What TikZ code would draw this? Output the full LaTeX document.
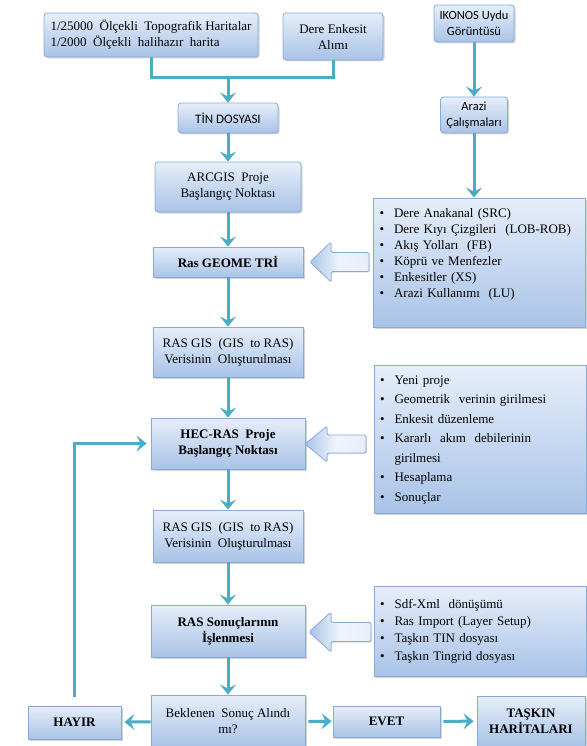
\documentclass[tikz,border=0pt]{standalone}
\usepackage{fontspec}
\setmainfont{Liberation Serif}
\newfontfamily\calibri{Carlito}
\usetikzlibrary{arrows.meta,shadows}
\definecolor{teal1}{HTML}{4BACC6}
\definecolor{boxtop}{HTML}{E6EEFA}
\definecolor{boxbot}{HTML}{A9C3E7}
\definecolor{boxline}{HTML}{8AAAD6}

\tikzset{
  procbox/.style={draw=boxline, line width=0.8pt, top color=boxtop, bottom color=boxbot,
    align=center, inner sep=2pt,
    drop shadow={shadow xshift=1.5pt, shadow yshift=-1.5pt, opacity=0.35}},
  roundbox/.style={procbox, rounded corners=3pt},
  listbox/.style={procbox, align=left, text width=200pt, inner xsep=6pt},
  flowline/.style={draw=teal1, line width=3pt},
  flowarrow/.style={flowline, -{Stealth[length=10pt,width=16pt,inset=4pt]}},
  blockarrow/.style={draw=boxline, line width=0.8pt, rounded corners=1.5pt,
    left color=boxbot, right color=boxtop, middle color=boxtop!60!white,
    drop shadow={shadow xshift=1pt, shadow yshift=-1pt, opacity=0.25}}
}

\begin{document}
\begin{tikzpicture}[x=1pt,y=-1pt,font=\fontsize{13}{16}\selectfont]
\useasboundingbox (0,0) rectangle (586,746);

\node[roundbox, minimum width=214pt, minimum height=44pt, align=left] (topo) at (151,35)
  {1/25000\ \ Ölçekli\ \ Topografik Haritalar\\1/2000\ \ Ölçekli\ \ halihazır\ \ harita};
\node[roundbox, minimum width=100pt, minimum height=47pt] (dere) at (333,36.5) {Dere Enkesit\\Alımı};
\node[roundbox, minimum width=80pt, minimum height=37pt, font=\calibri\fontsize{12.5}{16}\selectfont] (ikonos) at (474,23.5) {IKONOS Uydu\\Görüntüsü};
\node[roundbox, minimum width=67pt, minimum height=36pt, font=\calibri\fontsize{12.5}{16}\selectfont] (arazi) at (474,115) {Arazi\\Çalışmaları};
\node[roundbox, minimum width=100pt, minimum height=30pt, font=\calibri\fontsize{13}{16}\selectfont] (tin) at (228,118) {TİN DOSYASI};
\node[roundbox, minimum width=146pt, minimum height=50pt] (arcgis) at (228,187) {ARCGIS\ \ Proje\\Başlangıç Noktası};
\node[procbox, minimum width=150pt, minimum height=30pt, font=\bfseries\fontsize{13}{16}\selectfont] (rasgeo) at (228,262) {Ras GEOME TRİ};
\node[procbox, minimum width=150pt, minimum height=50pt] (rasgis1) at (228,352) {RAS GIS\ \ (GIS\ \ to RAS)\\Verisinin\ \ Oluşturulması};
\node[procbox, minimum width=154pt, minimum height=51pt, font=\bfseries\fontsize{13}{16}\selectfont] (hecras) at (228,443.5) {HEC-RAS\ \ Proje\\Başlangıç Noktası};
\node[procbox, minimum width=150pt, minimum height=52pt] (rasgis2) at (228,536) {RAS GIS\ \ (GIS\ \ to RAS)\\Verisinin\ \ Oluşturulması};
\node[procbox, minimum width=154pt, minimum height=52pt, font=\bfseries\fontsize{13}{16}\selectfont] (rassonuc) at (228,631) {RAS Sonuçlarının\\İşlenmesi};
\node[procbox, minimum width=154pt, minimum height=52pt] (beklenen) at (228,721) {Beklenen\ \ Sonuç Alındı\\mı?};
\node[procbox, minimum width=93pt, minimum height=33pt, font=\bfseries\fontsize{13}{16}\selectfont] (hayir) at (74.5,722.5) {HAYIR};
\node[procbox, minimum width=107pt, minimum height=31pt, font=\bfseries\fontsize{13}{16}\selectfont] (evet) at (386.5,721.5) {EVET};
\node[procbox, minimum width=108pt, minimum height=50pt, font=\bfseries\fontsize{13}{16}\selectfont] (taskin) at (531,721) {TAŞKIN\\HARİTALARI};

\node[listbox, minimum height=129pt] (list1) at (479.5,262.5) {%
  \begin{tabular}{@{}l@{\hspace{10pt}}l@{}}
  \textbullet & Dere Anakanal (SRC)\\
  \textbullet & Dere Kıyı Çizgileri\ \ (LOB-ROB)\\
  \textbullet & Akış Yolları\ \ (FB)\\
  \textbullet & Köprü ve Menfezler\\
  \textbullet & Enkesitler (XS)\\
  \textbullet & Arazi Kullanımı\ \ (LU)\\[17pt]
  \end{tabular}};
\node[listbox, minimum height=148pt] (list2) at (480,439) {%
  \renewcommand{\arraystretch}{1.22}%
  \begin{tabular}{@{}l@{\hspace{10pt}}l@{}}
  \textbullet & Yeni proje\\
  \textbullet & Geometrik\ \ verinin girilmesi\\
  \textbullet & Enkesit düzenleme\\
  \textbullet & Kararlı\ \ akım\ \ debilerinin\\
              & girilmesi\\
  \textbullet & Hesaplama\\
  \textbullet & Sonuçlar
  \end{tabular}};
\node[listbox, minimum height=90pt] (list3) at (480,631) {%
  \renewcommand{\arraystretch}{1.07}%
  \begin{tabular}{@{}l@{\hspace{10pt}}l@{}}
  \textbullet & Sdf-Xml\ \ dönüşümü\\
  \textbullet & Ras Import (Layer Setup)\\
  \textbullet & Taşkın TIN dosyası\\
  \textbullet & Taşkın Tingrid dosyası
  \end{tabular}};

% hollow block arrows
\draw[blockarrow] (310,262) -- (331,242) -- (331,252.5) -- (369,252.5) -- (369,271.5)
  -- (331,271.5) -- (331,282) -- cycle;
\draw[blockarrow] (305,444) -- (327,426) -- (327,435) -- (366,435) -- (366,453)
  -- (327,453) -- (327,462) -- cycle;
\draw[blockarrow] (309,632) -- (331,612) -- (331,622.5) -- (371,622.5) -- (371,641.5)
  -- (331,641.5) -- (331,652) -- cycle;

\coordinate (join) at (228,78);
\draw[flowline] (topo.south) |- (join) -| (dere.south);
\draw[flowarrow] (join) -- (tin.north);
\draw[flowarrow] (tin) -- (arcgis);
\draw[flowarrow] (arcgis) -- (rasgeo);
\draw[flowarrow] (rasgeo) -- (rasgis1);
\draw[flowarrow] (rasgis1) -- (hecras);
\draw[flowarrow] (hecras) -- (rasgis2);
\draw[flowarrow] (rasgis2) -- (rassonuc);
\draw[flowarrow] (rassonuc) -- (beklenen);
\draw[flowarrow] (ikonos) -- (arazi);
\draw[flowarrow] (arazi.south) -- (arazi.south |- list1.north);
\draw[flowarrow, shorten >=3pt] (beklenen) -- (hayir);
\draw[flowarrow, shorten <=3pt, shorten >=1pt] (beklenen) -- (evet);
\draw[flowarrow, shorten <=3pt, shorten >=3pt] (evet) -- (taskin);
\draw[flowarrow, shorten <=9pt, shorten >=4pt] (hayir.north) |- (hecras.west);
\end{tikzpicture}
\end{document}
